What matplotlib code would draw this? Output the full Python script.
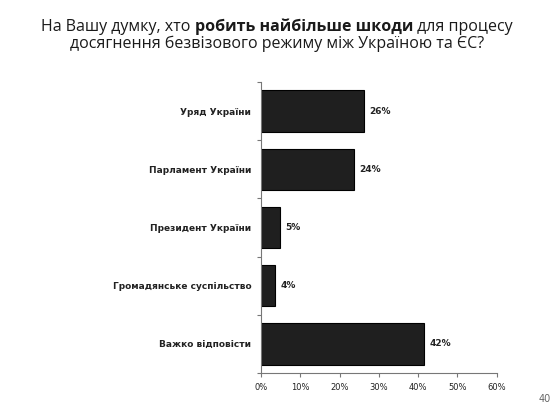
import matplotlib
matplotlib.use("Agg")
import matplotlib.pyplot as plt
from matplotlib.ticker import FixedLocator

categories = ["Уряд України", "Парламент України", "Президент України",
              "Громадянське суспільство", "Важко відповісти"]
values = [26.3, 23.7, 4.8, 3.6, 41.6]
value_labels = ["26%", "24%", "5%", "4%", "42%"]
xticks = [0, 10, 20, 30, 40, 50, 60]
xtick_labels = ["0%", "10%", "20%", "30%", "40%", "50%", "60%"]
title_line1 = [("На Вашу думку, хто ", "normal"), ("робить найбільше шкоди", "bold"), (" для процесу", "normal")]
title_line2 = "досягнення безвізового режиму між Україною та ЄС?"

plt.rcParams['font.family'] = ['DejaVu Sans']
fig = plt.figure(figsize=(5.6, 4.2), dpi=100)
fig.patch.set_facecolor("white")
ax = fig.add_axes([0.466, 0.112, 0.421, 0.693])

y = list(range(len(categories)))
ax.barh(y, values, height=0.71, color="#1f1f1f", edgecolor="black", linewidth=0.8)
ax.set_ylim(len(categories) - 0.5, -0.5)
ax.set_xlim(0, 60)
ax.set_xticks(xticks)
ax.set_xticklabels(xtick_labels, fontsize=6, color="#222222")
ax.set_yticks(y)
ax.set_yticklabels(categories, fontsize=6.5, fontweight="bold", color="#222222")
ax.tick_params(axis="y", length=0, pad=7)
ax.yaxis.set_minor_locator(FixedLocator([i - 0.5 for i in range(len(categories) + 1)]))
ax.tick_params(axis="y", which="minor", length=3, color="#777777", width=0.8)
ax.tick_params(axis="x", length=3, color="#777777", width=0.8, pad=4)
for s in ["top", "right"]:
    ax.spines[s].set_visible(False)
for s in ["left", "bottom"]:
    ax.spines[s].set_color("#777777")
    ax.spines[s].set_linewidth(0.8)

for yi, v, lab in zip(y, values, value_labels):
    ax.text(v + 1.3, yi, lab, va="center", ha="left", fontsize=6.5, fontweight="bold", color="#222222")

# Title with mixed weight
title_font = "Open Sans"
renderer = fig.canvas.get_renderer()
fs = 11.5
parts = []
total = 0
for txt, w in title_line1:
    t = fig.text(0, 0, txt, fontsize=fs, fontweight=w, color="#1a1a1a", family=title_font)
    bb = t.get_window_extent(renderer=renderer)
    parts.append((t, bb.width))
    total += bb.width
W = fig.get_figwidth() * fig.dpi
x0 = (W - total) / 2 - 3
y1 = 1 - 31 / 420
for t, wd in parts:
    t.set_position((x0 / W, y1))
    t.set_va("baseline")
    x0 += wd
fig.text(0.5 - 3 / 560, 1 - 48 / 420, title_line2, fontsize=fs, ha="center", va="baseline",
         color="#1a1a1a", family=title_font)

fig.text(545 / 560, 1 - 402 / 420, "40", fontsize=7, color="#666666", ha="center", va="baseline")

fig.savefig("out.png", dpi=100)
